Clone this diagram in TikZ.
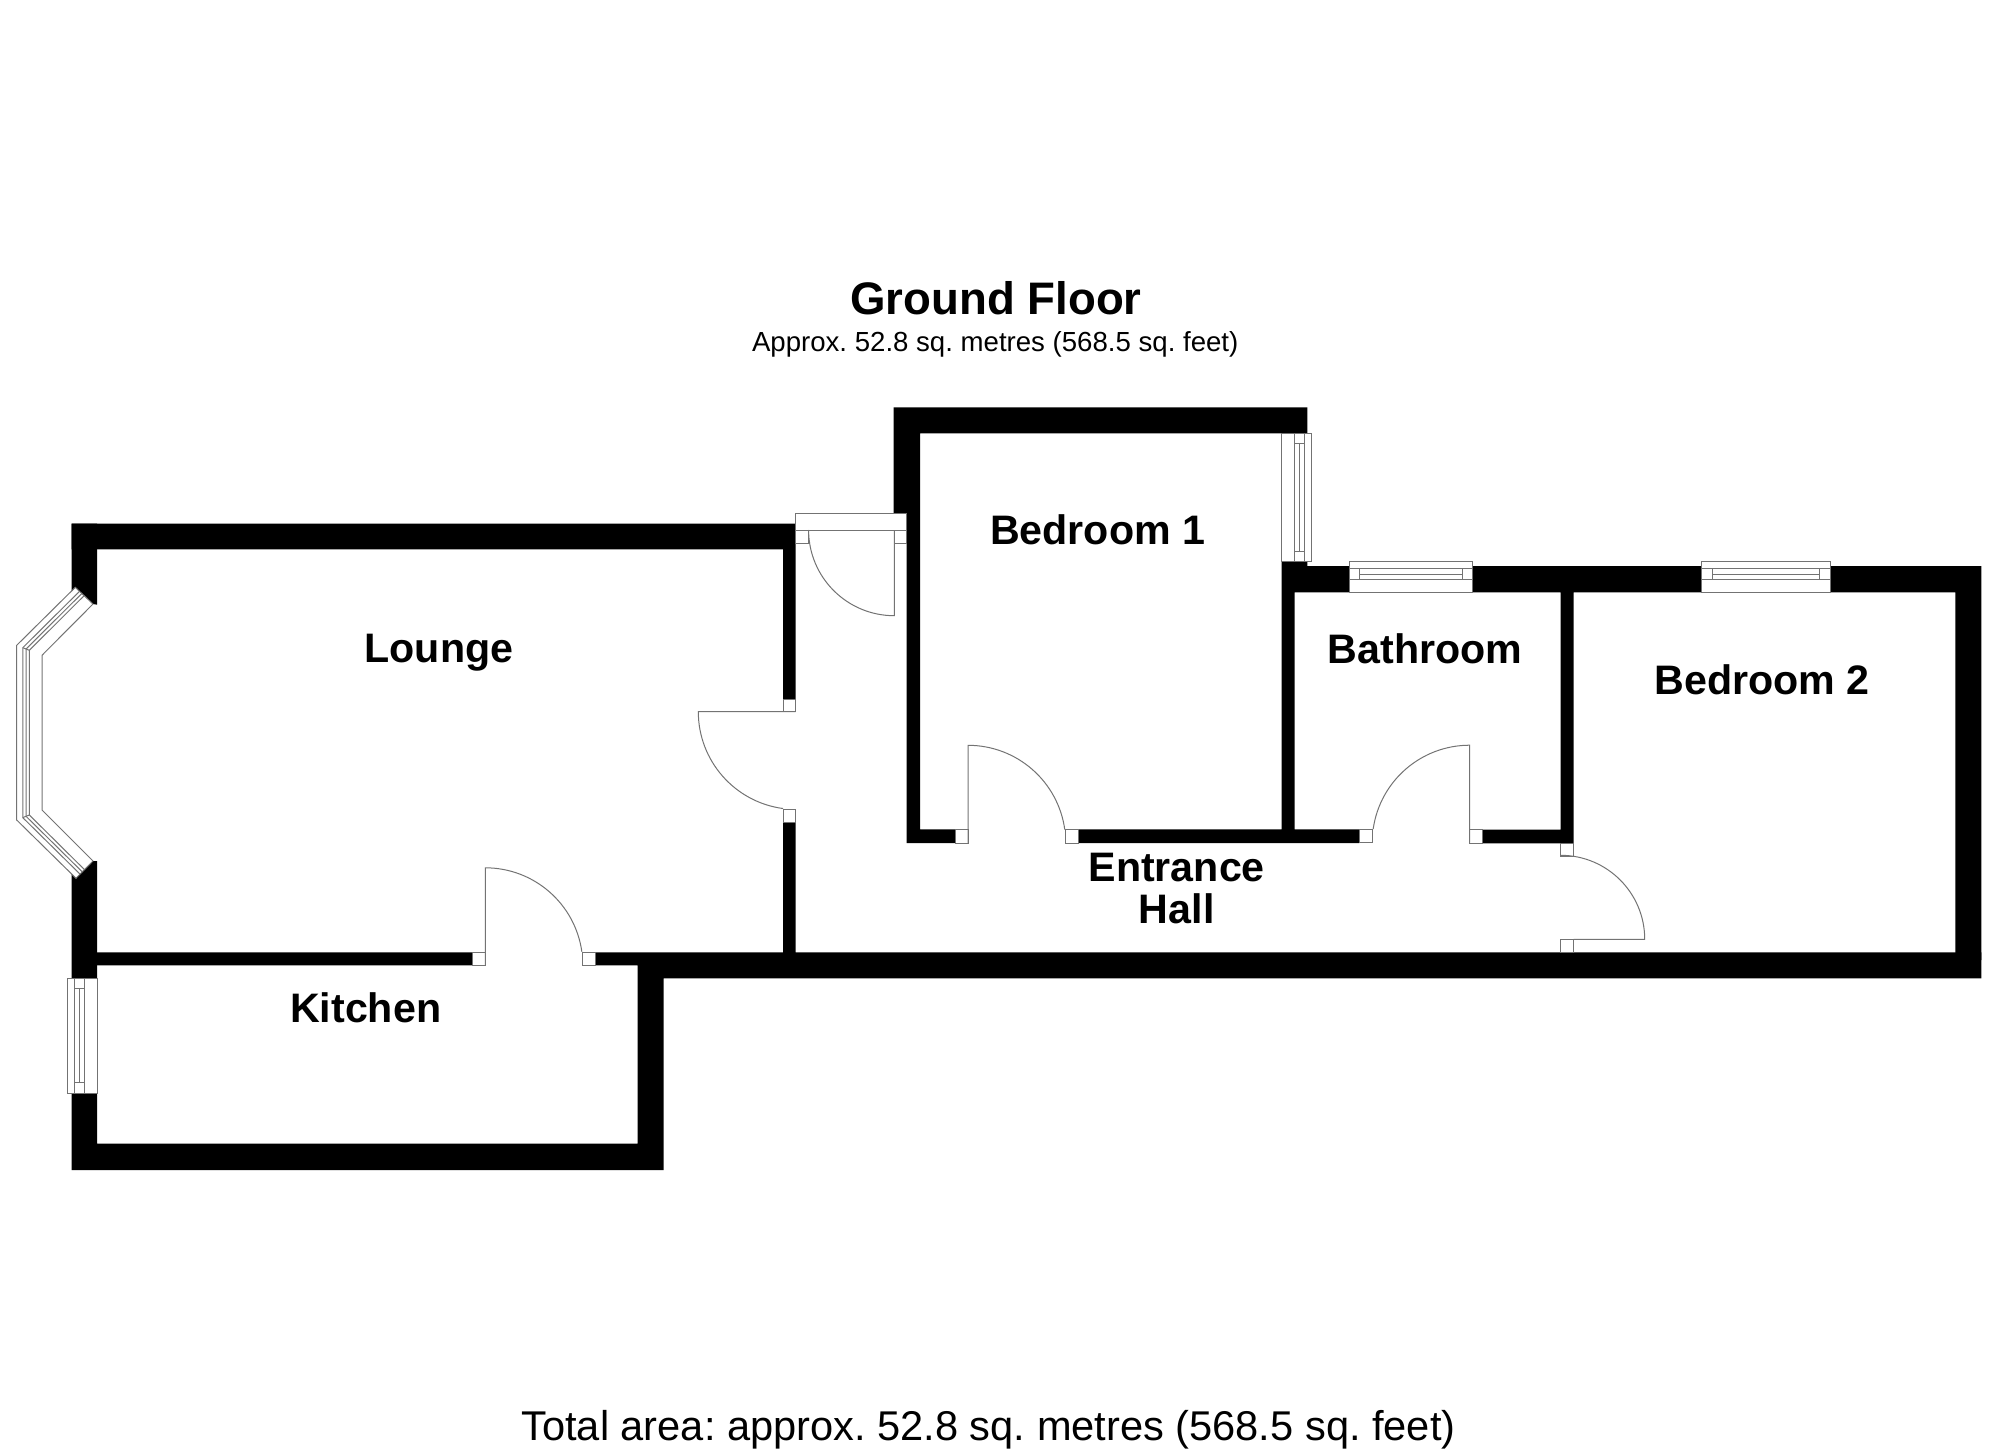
\documentclass[tikz,border=0pt]{standalone}
\usepackage{fontspec}
\setmainfont{Liberation Sans}
\usetikzlibrary{calc}

\tikzset{
  wallfill/.style={fill=black},
  thinline/.style={draw=black!55,line width=.5pt},
  roomlabel/.style={font=\frenchspacing\bfseries\fontsize{20.6}{20.8}\selectfont,anchor=base,inner sep=0pt,align=center},
  arealabel/.style={roomlabel,font=\frenchspacing\fontsize{#1}{#1}\selectfont},
}

\begin{document}
\begin{tikzpicture}[x=.5pt,y=-.5pt]
    \useasboundingbox (0,0) rectangle (2000,1454);
    % walls
    \fill[wallfill] (71.6,523.5) rectangle (795.7,549.4)
    (71.6,1093.3) rectangle (97.2,1170)
    (71.6,1143.7) rectangle (663.7,1170)
    (637.6,952.3) rectangle (663.7,1170)
    (97.2,952.3) rectangle (472.2,965.3)
    (595.6,952.3) rectangle (663.7,965.3)
    (637.6,952.3) rectangle (1981.3,978.3)
    (783,549) rectangle (795.7,699)
    (783,822) rectangle (795.7,952.3);
    \fill[wallfill] (71.6,523.5) -- (97.2,523.5) -- (97.2,604.7) -- (93,604) -- (75.3,587.3) -- (71.6,591.5) -- cycle;
    \fill[wallfill] (97.2,861) -- (93,861) -- (76,878.3) -- (71.6,874) -- (71.6,978) -- (97.2,978) -- cycle;
    \fill[wallfill] (893.7,407.3) rectangle (1307.3,433.3)
    (893.7,407.3) rectangle (920,513.3)
    (906.7,513.3) rectangle (920,843)
    (906.7,829.3) rectangle (955,843)
    (1078.3,829.3) rectangle (1359.3,843)
    (1281.7,561.7) rectangle (1294.7,843)
    (1281.7,561.7) rectangle (1307.3,592.3)
    (1307.3,566) rectangle (1349,592.3)
    (1472.3,566) rectangle (1701.7,592.3)
    (1830,566) rectangle (1981.3,592.3)
    (1955.3,566) rectangle (1981.3,960)
    (1560.7,592.3) rectangle (1573.7,843.3)
    (1482.3,829.7) rectangle (1573.7,843.3);
    % bay window
    \coordinate (baya) at (75.3,587.3);
    \coordinate (bayb) at (16.7,645.3);
    \coordinate (bayc) at (16.7,820);
    \coordinate (bayd) at (76,878.3);
    \coordinate (baye) at (93,604);
    \coordinate (bayf) at (42,655.3);
    \coordinate (bayg) at (42,810);
    \coordinate (bayh) at (93,861);
    \draw[thinline] (baya) -- (bayb) -- (bayc) -- (bayd) -- (bayh) -- (bayg) -- (bayf) -- (baye) -- cycle;
    \foreach \t in {.24,.37,.5}
      \draw[thinline] ($(baya)!\t!(baye)$) -- ($(bayb)!\t!(bayf)$) -- ($(bayc)!\t!(bayg)$) -- ($(bayd)!\t!(bayh)$);
    \draw[thinline] ($(bayb)!.24!(bayf)$) -- ($(bayb)!.5!(bayf)$)
    ($(bayc)!.24!(bayg)$) -- ($(bayc)!.5!(bayg)$);
    % other windows
    \draw[thinline] (67.4,978) rectangle (97.2,1093.3)
    (74.1,978) -- (74.1,1093.3) (84.6,978) -- (84.6,1093.3)
    (74.1,988) -- (84.6,988) (74.1,1082.7) -- (84.6,1082.7)
    (79.3,988) -- (79.3,1082.7);
    \draw[thinline] (1281.7,433.3) rectangle (1311.7,561.7)
    (1294.3,433.3) -- (1294.3,561.7) (1304.3,433.3) -- (1304.3,561.7)
    (1294.3,443.3) -- (1304.3,443.3) (1294.3,551.7) -- (1304.3,551.7)
    (1299.3,443.3) -- (1299.3,551.7);
    \foreach \xa/\xb/\xc/\xd in {1349/1359.3/1462.7/1472.3,1701.7/1712.3/1819.3/1830}
      \draw[thinline] (\xa,561.7) rectangle (\xd,592.3)
      (\xa,568.5) -- (\xd,568.5) (\xa,579.8) -- (\xd,579.8)
      (\xb,568.5) -- (\xb,579.8) (\xc,568.5) -- (\xc,579.8)
      (\xb,574) -- (\xc,574);
    % door jambs
    \foreach \xa/\ya/\xb/\yb in {783/699/795.7/711.7,783/809/795.7/822,
      955/829.3/968/843,1065.7/829.3/1078.3/843,
      1359.3/829.3/1372.7/842.7,1469.7/829.3/1482.3/843.3,
      1560.7/843.3/1573.7/856,1560.7/939.3/1573.7/952.3,
      472.2/952.3/485.3/965.3,582.5/952.3/595.6/965.3,
      795.7/530/808.7/543,894.3/530/906.7/543}
      \draw[thinline] (\xa,\ya) rectangle (\xb,\yb);
    % entrance door frame
    \draw[thinline] (795.7,513.3) rectangle (906.7,530);
    % door leaves and swings
    \draw[thinline] (894.3,530) -- (894.3,615.7) arc[start angle=90,end angle=180,radius=85.7];
    \draw[thinline] (795.7,711.7) -- (698.3,711.7) arc[start angle=180,end angle=97.6,radius=97.7];
    \draw[thinline] (968,843) -- (968,745.3) arc[start angle=-90,end angle=-7.9,radius=97.7];
    \draw[thinline] (1469.7,842.7) -- (1469.7,745.2) arc[start angle=-90,end angle=-172,radius=97.5];
    \draw[thinline] (1573.7,939.3) -- (1644.7,939.3) arc[start angle=0,end angle=-90,radius=84];
    \draw[thinline] (485.3,965.3) -- (485.3,867.8) arc[start angle=-90,end angle=-8,radius=97.5];
    % labels
    \node[roomlabel,font=\bfseries\fontsize{22.8}{23}\selectfont] (groundfloor) at (996,315) {Ground Floor};
    \node[arealabel=13.8] (floorarea) at (995.2,351.7) {Approx. 52.8 sq. metres (568.5 sq. feet)};
    \node[roomlabel] (lounge) at (439,662.7) {Lounge};
    \node[roomlabel] (kitchen) at (365.7,1022) {Kitchen};
    \node[roomlabel] (bedroomone) at (1097.6,544.5) {Bedroom 1};
    \node[roomlabel] (bedroomtwo) at (1762,694) {Bedroom 2};
    \node[roomlabel] (bathroom) at (1425,663.3) {Bathroom};
    \node[roomlabel] (entrancehall) at (1176.7,923.3) {Entrance\\Hall};
    \node[arealabel=20.8] (totalarea) at (988.5,1440) {Total area: approx. 52.8 sq. metres (568.5 sq. feet)};
\end{tikzpicture}
\end{document}
